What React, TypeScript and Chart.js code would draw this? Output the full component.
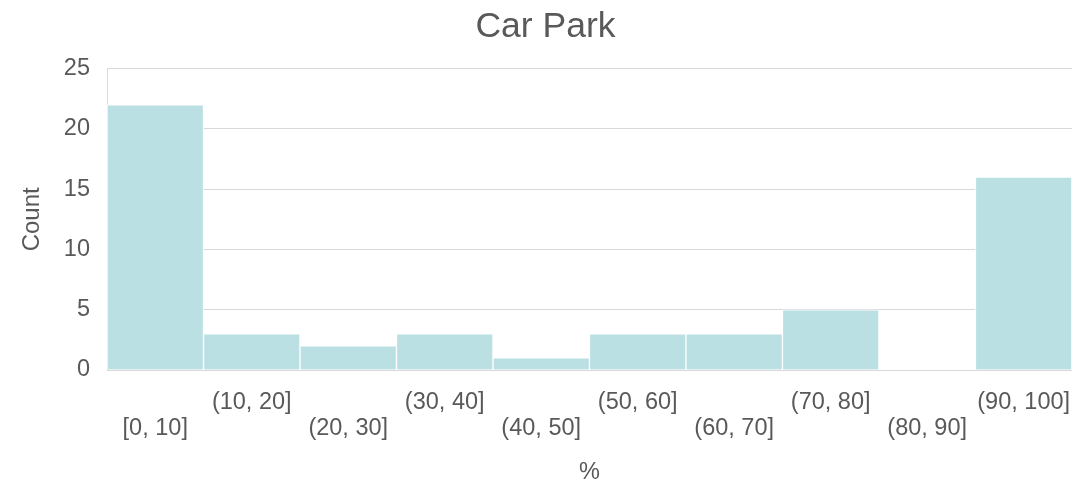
import React, { useEffect, useRef } from "react";
import { Chart, registerables } from "chart.js";

Chart.register(...registerables);

// Histogram bins and counts
const binLabels: string[] = [
  "[0, 10]",
  "(10, 20]",
  "(20, 30]",
  "(30, 40]",
  "(40, 50]",
  "(50, 60]",
  "(60, 70]",
  "(70, 80]",
  "(80, 90]",
  "(90, 100]",
];
const counts: number[] = [22, 3, 2, 3, 1, 3, 3, 5, 0, 16];
const yTicks: number[] = [0, 5, 10, 15, 20, 25];

const TEXT = "#595959";
const GRID = "#d9d9d9";
const BAR = "#bbe0e3";
const FONT = "'Liberation Sans', Arial, sans-serif";

// Alternate bins between an upper and a lower label row
const staggered = binLabels.map((l, i) => (i % 2 === 0 ? ["", l] : [l, ""]));

export default function App() {
  const ref = useRef<HTMLCanvasElement | null>(null);

  useEffect(() => {
    document.body.style.margin = "0";
    if (!ref.current) return;
    const chart = new Chart(ref.current, {
      type: "bar",
      data: {
        labels: staggered,
        datasets: [
          {
            data: counts,
            backgroundColor: BAR,
            borderColor: "#ffffff",
            borderWidth: 1,
            borderSkipped: "start",
            barPercentage: 1,
            categoryPercentage: 1,
          },
        ],
      },
      options: {
        animation: false,
        responsive: false,
        layout: { padding: 0 },
        plugins: {
          legend: { display: false },
          tooltip: { enabled: false },
          title: {
            display: true,
            text: "Car Park",
            color: TEXT,
            font: { family: FONT, size: 35.5, weight: "normal", lineHeight: 1.2 },
            padding: { top: 6, bottom: 20 },
          },
        },
        scales: {
          x: {
            z: 1,
            grid: { display: false, drawTicks: false },
            border: { display: true, color: GRID, width: 1 },
            ticks: {
              autoSkip: false,
              maxRotation: 0,
              minRotation: 0,
              padding: 20,
              color: TEXT,
              font: { family: FONT, size: 23.5, lineHeight: 1.106 },
            },
            title: {
              display: true,
              text: "%",
              color: TEXT,
              font: { family: FONT, size: 23.5, lineHeight: 0.8 },
              padding: { top: 0, bottom: 0 },
            },
            afterFit: (scale: any) => {
              scale.height = 112;
            },
          },
          y: {
            min: 0,
            max: 25,
            afterBuildTicks: (scale: any) => {
              scale.ticks = yTicks.map((v) => ({ value: v }));
            },
            grid: { color: GRID, lineWidth: 1, drawTicks: false },
            border: { display: true, color: GRID, width: 1 },
            ticks: {
              padding: 17,
              color: TEXT,
              font: { family: FONT, size: 23.5 },
            },
            title: {
              display: true,
              text: "Count",
              color: TEXT,
              font: { family: FONT, size: 24, lineHeight: 1.2 },
              padding: { top: 18, bottom: 0 },
            },
            afterFit: (scale: any) => {
              scale.width = 107;
            },
          },
          // empty right-hand gutter so the title stays centred on the canvas
          gutter: {
            type: "linear",
            position: "right",
            display: true,
            grid: { display: false, drawTicks: false },
            border: { display: false },
            ticks: { display: false },
            afterFit: (scale: any) => {
              scale.width = 19;
            },
          },
        },
      },
    });
    return () => chart.destroy();
  }, []);

  return (
    <div style={{ width: 1091, height: 482, background: "#ffffff" }}>
      <canvas ref={ref} width={1091} height={482} style={{ display: "block" }} />
    </div>
  );
}
